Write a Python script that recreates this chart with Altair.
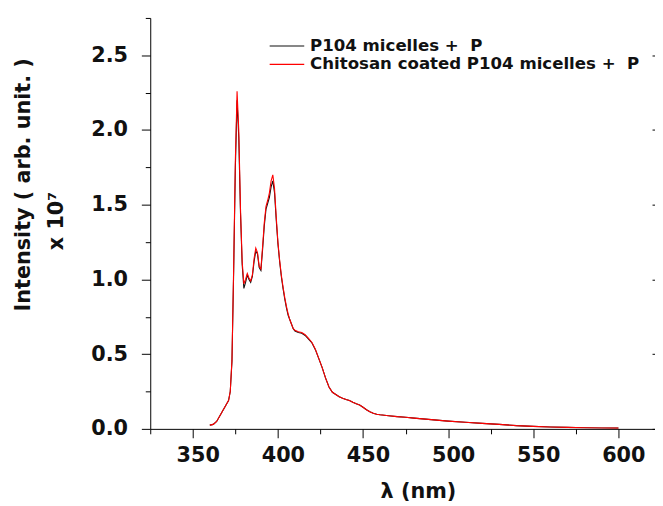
import altair as alt
import pandas as pd

wavelength = [360, 362, 364, 366, 368, 370, 371, 372, 373, 374, 375, 376, 377, 378, 379,
              380, 381, 382, 383, 384, 385, 386, 387, 388, 389, 390, 391, 392, 393, 394,
              395, 396, 397, 398, 399, 400, 401, 402, 403, 404, 405, 406, 407, 408, 409,
              410, 412, 414, 416, 418, 420, 422, 424, 426, 428, 430, 432, 434, 436, 438,
              440, 442, 444, 446, 448, 450, 452, 454, 456, 458, 460, 465, 470, 475, 480,
              490, 500, 510, 520, 530, 540, 550, 560, 570, 580, 590, 600]

p104 = [0.025, 0.03, 0.05, 0.09, 0.13, 0.17, 0.19, 0.25, 0.45, 1.05, 1.75, 2.20, 1.95, 1.45, 1.10,
        0.94, 0.98, 1.03, 1.00, 0.98, 1.02, 1.12, 1.19, 1.17, 1.08, 1.06, 1.20, 1.36, 1.47, 1.51,
        1.55, 1.62, 1.66, 1.58, 1.40, 1.24, 1.12, 1.02, 0.94, 0.87, 0.81, 0.76, 0.73, 0.70, 0.67,
        0.655, 0.645, 0.64, 0.625, 0.60, 0.575, 0.53, 0.47, 0.41, 0.34, 0.28, 0.245, 0.23, 0.215, 0.205,
        0.197, 0.19, 0.178, 0.168, 0.16, 0.145, 0.128, 0.115, 0.105, 0.098, 0.094, 0.088, 0.082, 0.078, 0.072,
        0.062, 0.052, 0.044, 0.037, 0.03, 0.022, 0.017, 0.013, 0.01, 0.008, 0.006, 0.005]

chitosan = [0.025, 0.03, 0.05, 0.09, 0.13, 0.17, 0.19, 0.25, 0.46, 1.08, 1.80, 2.26, 2.00, 1.48, 1.12,
            0.97, 1.00, 1.04, 1.01, 0.99, 1.03, 1.14, 1.21, 1.18, 1.09, 1.07, 1.22, 1.38, 1.49, 1.53,
            1.58, 1.66, 1.70, 1.61, 1.42, 1.25, 1.13, 1.03, 0.95, 0.88, 0.82, 0.77, 0.73, 0.70, 0.67,
            0.66, 0.65, 0.645, 0.63, 0.605, 0.578, 0.533, 0.472, 0.41, 0.34, 0.28, 0.245, 0.23, 0.215, 0.205,
            0.197, 0.19, 0.178, 0.168, 0.16, 0.145, 0.128, 0.115, 0.105, 0.098, 0.094, 0.088, 0.082, 0.078, 0.072,
            0.062, 0.052, 0.044, 0.037, 0.03, 0.022, 0.017, 0.013, 0.01, 0.008, 0.006, 0.005]

series_names = ["P104 micelles +\u00a0 P", "Chitosan coated P104 micelles +\u00a0 P"]
series_colors = ["#111111", "#ff0000"]

x_ticks = [325, 350, 375, 400, 425, 450, 475, 500, 525, 550, 575, 600]
y_ticks = [0, 0.25, 0.5, 0.75, 1.0, 1.25, 1.5, 1.75, 2.0, 2.25, 2.5, 2.75]
y_major = [0, 0.5, 1.0, 1.5, 2.0, 2.5]

rows = []
for name, vals in zip(series_names, [p104, chitosan]):
    for w, v in zip(wavelength, vals):
        rows.append({"wavelength": w, "intensity": v, "series": name})
df = pd.DataFrame(rows)

FONT = "DejaVu Sans"

x_axis = alt.Axis(
    values=x_ticks,
    labelExpr="datum.value % 50 === 0 ? datum.label : ''",
    tickSize={"condition": {"test": "datum.value % 50 === 0", "value": 9}, "value": 5},
    labelPadding=7, labelOffset=5,
    labelFont=FONT, labelFontSize=21, labelFontWeight="bold", labelColor="#111",
    title="λ (nm)", titleFont=FONT, titleFontSize=21, titleFontWeight="bold", titleColor="#111",
    titlePadding=15, titleX=271,
    grid=False, domainColor="#000", tickColor="#000", labelFlush=False,
)

# a zero-width space keeps the leading no-break spaces from being trimmed
y_title = ["\u200b" + "\u00a0" * 10 + "Intensity ( arb. unit. )", "x 10\u2077"]

y_left = alt.Axis(
    values=y_ticks,
    labelExpr="round(datum.value * 100) % 50 === 0 ? format(datum.value, '.1f') : ''",
    tickSize={"condition": {"test": "round(datum.value * 100) % 50 === 0", "value": 9}, "value": 5},
    labelPadding=14,
    labelFont=FONT, labelFontSize=21, labelFontWeight="bold", labelColor="#111",
    title=y_title, titleFont=FONT, titleFontSize=21, titleFontWeight="bold", titleColor="#111",
    titleAngle=270, titleBaseline="top", titleAlign="center",
    titleX=-139, titleY=205, titleLineHeight=33,
    grid=False, domainColor="#000", tickColor="#000", labelFlush=False,
)

y_right = alt.Axis(
    orient="right", values=y_major, labels=False, domain=False, title=None,
    tickSize=3, offset=-3, grid=False, tickColor="#000",
)

# short horizontal stroke (35 px long with symbolSize 49) so the rows stay compact
color = alt.Color(
    "series:N",
    scale=alt.Scale(domain=series_names, range=series_colors),
    legend=alt.Legend(
        title=None, orient="none", legendX=130, legendY=20, padding=0,
        symbolType="M-5,0H5", symbolSize=49, symbolStrokeWidth=1.2,
        labelFont=FONT, labelFontSize=16.8, labelFontWeight="bold", labelColor="#111",
        labelOffset=15, rowPadding=0.5, labelLimit=600,
    ),
)

x_scale = alt.Scale(domain=[325, 621.5], nice=False, zero=False)
y_scale = alt.Scale(domain=[0, 2.75], nice=False)

black = alt.Chart(df).transform_filter(
    alt.datum.series == series_names[0]
).mark_line(strokeWidth=1.1, clip=True).encode(
    x=alt.X("wavelength:Q", scale=x_scale, axis=x_axis),
    y=alt.Y("intensity:Q", scale=y_scale, axis=y_left),
    color=color,
)

red = alt.Chart(df).transform_filter(
    alt.datum.series == series_names[1]
).mark_line(strokeWidth=1.1, clip=True).encode(
    x=alt.X("wavelength:Q", scale=x_scale, axis=x_axis),
    y=alt.Y("intensity:Q", scale=y_scale, axis=y_right),
    color=color,
)

chart = alt.layer(black, red).resolve_axis(y="independent").properties(
    width=511, height=416,
    autosize=alt.AutoSizeParams(type="none"),
    padding={"left": 144, "top": 7, "right": 0, "bottom": 75},
    background="white",
).configure_view(stroke=None)

chart.save("out.html", embed_options={"renderer": "svg", "actions": False})
